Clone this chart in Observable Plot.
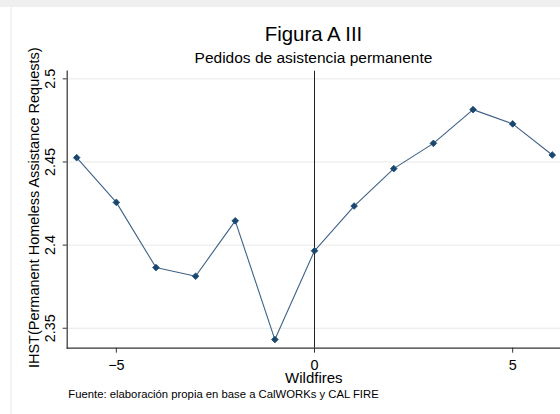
<!DOCTYPE html>
<html>
<head>
<meta charset="utf-8">
<script src="https://cdn.jsdelivr.net/npm/d3@7"></script>
<script src="https://cdn.jsdelivr.net/npm/@observablehq/plot@0.6"></script>
<style>
html, body { margin: 0; padding: 0; background: #fff; }
#wrap { position: relative; width: 560px; height: 414px; overflow: hidden; font-family: "Liberation Sans", Arial, sans-serif; color: #000; background: #fff; }
.topband { position: absolute; left: 0; top: 0; width: 560px; height: 7px; background: #efefef; }
.leftline { position: absolute; left: 10px; top: 7px; width: 2px; height: 407px; background: #f3f3f3; }
.t { position: absolute; white-space: nowrap; line-height: 1; }
#title { left: 0; width: 627px; text-align: center; top: 24.4px; font-size: 20.4px; }
#subtitle { left: 0; width: 627px; text-align: center; top: 49.6px; font-size: 15.5px; }
#caption { left: 68.3px; top: 388.9px; font-size: 11.3px; }
#chart { position: absolute; left: 0; top: 0; }
</style>
</head>
<body>
<div id="wrap">
  <div class="topband"></div>
  <div class="leftline"></div>
  <div id="chart"></div>
  <div class="t" id="title"></div>
  <div class="t" id="subtitle"></div>
  <div class="t" id="caption"></div>
</div>
<script>
// ---- data ----
const titleText = "Figura A III";
const subtitleText = "Pedidos de asistencia permanente";
const captionText = "Fuente: elaboración propia en base a CalWORKs y CAL FIRE";
const xLabel = "Wildfires";
const yLabel = "IHST(Permanent Homeless Assistance Requests)";

const periods = [-6, -5, -4, -3, -2, -1, 0, 1, 2, 3, 4, 5, 6];
const ihst = [2.4526, 2.4257, 2.3865, 2.3813, 2.4146, 2.3432, 2.3966, 2.4235, 2.4460, 2.4612, 2.4815, 2.4729, 2.4542];
const xTicks = [-5, 0, 5];
const yTicks = [2.35, 2.4, 2.45, 2.5];
const yTickLabels = ["2.35", "2.4", "2.45", "2.5"];
const eventPeriod = [0];
const xDomain = [-6.24, 6.207];
const yDomain = [2.338, 2.5046];

const rows = periods.map((p, i) => ({period: p, value: ihst[i]}));

document.getElementById("title").textContent = titleText;
document.getElementById("subtitle").textContent = subtitleText;
document.getElementById("caption").textContent = captionText;

const navy = "#1a476f";

const chart = Plot.plot({
  width: 560,
  height: 414,
  marginLeft: 66.7,
  marginRight: 0,
  marginTop: 70.7,
  marginBottom: 66.3,
  style: {fontFamily: "'Liberation Sans', Arial, sans-serif", fontSize: "14.4px", color: "#000", background: "transparent", overflow: "visible"},
  x: {domain: xDomain},
  y: {domain: yDomain},
  marks: [
    Plot.gridY(yTicks, {stroke: "#e8e8e8", strokeOpacity: 1, strokeWidth: 1}),
    Plot.ruleX(eventPeriod, {stroke: "#222", strokeWidth: 1}),
    Plot.frame({anchor: "left", stroke: "#333", strokeWidth: 1.2}),
    Plot.frame({anchor: "bottom", stroke: "#333", strokeWidth: 1.2}),
    Plot.axisY(yTicks, {
      tickFormat: (d, i) => yTickLabels[i],
      tickSize: 4, tickPadding: 8, tickRotate: -90,
      stroke: "#333", fill: "#000", label: null, fontSize: 14.4
    }),
    Plot.axisX(xTicks, {
      tickSize: 5, tickPadding: 6.5,
      stroke: "#333", fill: "#000", label: null, fontSize: 14.4
    }),
    Plot.text([yLabel], {frameAnchor: "left", dx: -27.7, dy: -2, rotate: -90, lineAnchor: "bottom", textAnchor: "middle", fontSize: 14.5, fill: "#000"}),
    Plot.text([xLabel], {frameAnchor: "bottom", dy: 34.3, lineAnchor: "bottom", textAnchor: "middle", fontSize: 15, fill: "#000"}),
    Plot.line(rows, {x: "period", y: "value", stroke: "#3f6185", strokeWidth: 1.1}),
    Plot.dot(rows, {x: "period", y: "value", symbol: "diamond2", r: 3, fill: navy, stroke: navy, strokeWidth: 0.8})
  ]
});
document.getElementById("chart").appendChild(chart);
</script>
</body>
</html>
